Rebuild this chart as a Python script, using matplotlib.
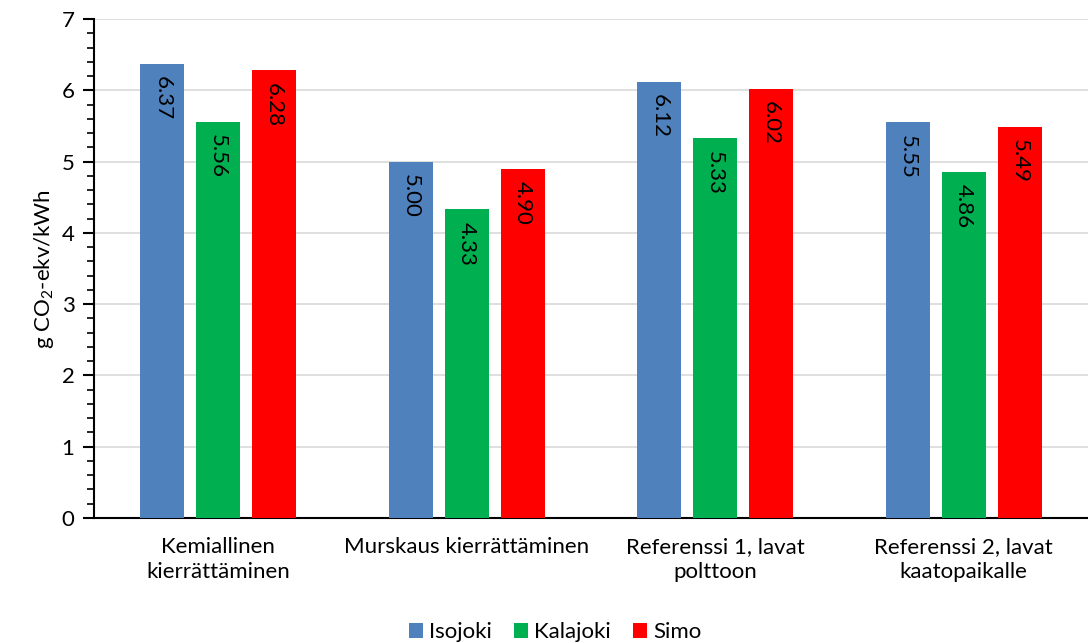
import matplotlib.pyplot as plt
import numpy as np

categories = ['Kemiallinen\nkierrättäminen', 'Murskaus kierrättäminen',
              'Referenssi 1, lavat\npolttoon', 'Referenssi 2, lavat\nkaatopaikalle']
series = ['Isojoki', 'Kalajoki', 'Simo']
isojoki = [6.37, 5.00, 6.12, 5.55]
kalajoki = [5.56, 4.33, 5.33, 4.86]
simo = [6.28, 4.90, 6.02, 5.49]
colors = ['#4F81BD', '#00B050', '#FF0000']

plt.rcParams['font.family'] = ['Lato', 'DejaVu Sans']
plt.rcParams['mathtext.fontset'] = 'custom'
plt.rcParams['mathtext.rm'] = 'Lato'

fs = 16
fig = plt.figure(figsize=(10.88, 6.43), dpi=100)
ax = fig.add_axes([94/1088, 1 - 518/643, (1088-94)/1088, (518-19)/643])

x = np.arange(len(categories))
width = 0.177
offset = 0.225
for i, (vals, name) in enumerate(zip([isojoki, kalajoki, simo], series)):
    pos = x + (i - 1) * offset
    bars = ax.bar(pos, vals, width, color=colors[i], label=name, zorder=3)
    for b, v in zip(bars, vals):
        ax.annotate('%.2f' % v, (b.get_x() + b.get_width()/2, v), xytext=(0, -9),
                    textcoords='offset points', rotation=270, ha='center', va='top',
                    fontsize=fs, color='black', zorder=4)

ax.set_xlim(-0.5, 3.5)
ax.set_ylim(0, 7)
ax.set_xticks(x)
ax.set_xticklabels(categories, fontsize=fs, linespacing=1.3)
ax.tick_params(axis='x', length=0, pad=14)
ax.set_yticks(np.arange(0, 8, 1))
ax.set_yticks(np.arange(0, 7.01, 0.2), minor=True)
ax.tick_params(axis='y', which='major', length=8, width=1.5, labelsize=fs, pad=6)
ax.tick_params(axis='y', which='minor', length=5, width=1.2)
ax.grid(axis='y', which='major', color='#D9D9D9', linewidth=1.2, zorder=0)
ax.set_ylabel('g CO$_2$-ekv/kWh', fontsize=fs, labelpad=4)

for s in ['top', 'right']:
    ax.spines[s].set_visible(False)
ax.spines['left'].set_linewidth(1.5)
ax.spines['bottom'].set_linewidth(1.5)

fig.legend(loc='lower center', bbox_to_anchor=(555/1088, -0.03), ncol=3, frameon=False,
           fontsize=fs, handlelength=0.65, handleheight=0.65, handletextpad=0.25,
           columnspacing=1.0)

plt.savefig('out.png', dpi=100)
